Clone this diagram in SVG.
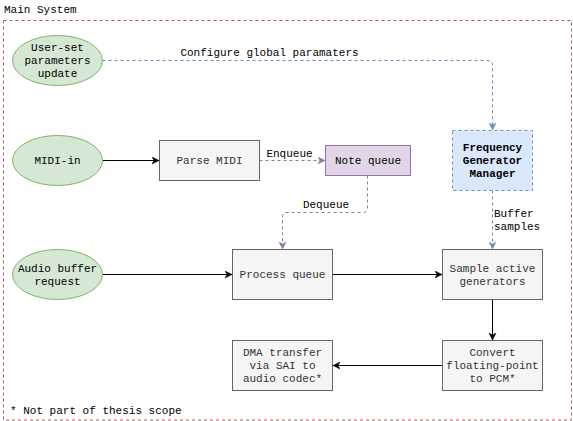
<svg xmlns="http://www.w3.org/2000/svg" width="573" height="421" viewBox="0 0 573 421">
<style>
text{font-family:"Liberation Mono","Courier New",monospace;font-size:11px;text-anchor:middle;}
.ell{fill:#d5e8d4;stroke:#82b366;stroke-width:1;}
.box{fill:#f5f5f5;stroke:#666666;stroke-width:1;}
.gt{fill:#333333;}
.bt{fill:#000000;}
.blue{fill:#dae8fc;stroke:#6c8ebf;stroke-width:1;stroke-dasharray:3 3;}
.purp{fill:#e1d5e7;stroke:#9673a6;stroke-width:1;}
.c{fill:none;stroke:#000000;stroke-width:1;}
.cb{fill:none;stroke:#6c8ebf;stroke-width:1;stroke-dasharray:3 3;}
.cp{fill:none;stroke:#9673a6;stroke-width:1;stroke-dasharray:3 3;}
.lab{fill:#000000;}
</style>
<defs>
<marker id="ak" markerWidth="8" markerHeight="8" refX="7" refY="4" orient="auto" markerUnits="userSpaceOnUse">
<path d="M0,0.5 L7,4 L0,7.5 L2,4 Z" fill="#000000" stroke="#000000" stroke-width="0.5"/>
</marker>
<marker id="ab" markerWidth="8" markerHeight="8" refX="7" refY="4" orient="auto" markerUnits="userSpaceOnUse">
<path d="M0,0.5 L7,4 L0,7.5 L2,4 Z" fill="#6c8ebf" stroke="#6c8ebf" stroke-width="0.5"/>
</marker>
<marker id="ap" markerWidth="8" markerHeight="8" refX="7" refY="4" orient="auto" markerUnits="userSpaceOnUse">
<path d="M0,0.5 L7,4 L0,7.5 L2,4 Z" fill="#9673a6" stroke="#9673a6" stroke-width="0.5"/>
</marker>
</defs>
<rect width="573" height="421" fill="#ffffff"/>
<g id="main-system">
<rect x="3.5" y="20.5" width="568" height="399.5" fill="none" stroke="#b85450" stroke-width="1" stroke-dasharray="3 3"/>
<text x="4" y="13" style="text-anchor:start" class="bt">Main System</text>
<text x="10" y="414" style="text-anchor:start" class="bt">* Not part of thesis scope</text>
</g>
<g id="connectors">
<path class="cb" d="M102.5,60.5 H488 Q492.5,60.5 492.5,65 V130" marker-end="url(#ab)"/>
<text x="269.5" y="56" class="lab">Configure global paramaters</text>
<path class="c" d="M102.5,160.5 H159" marker-end="url(#ak)"/>
<path class="cp" d="M259.5,160.5 H325" marker-end="url(#ap)"/>
<text x="289.5" y="157" class="lab">Enqueue</text>
<path class="cp" d="M367.5,175.5 V208 Q367.5,212.5 363,212.5 H287 Q282.5,212.5 282.5,217 V249" marker-end="url(#ap)"/>
<text x="326" y="208" class="lab">Dequeue</text>
<path class="cb" d="M492.5,190.5 V249" marker-end="url(#ab)"/>
<text x="494" y="217" style="text-anchor:start" class="lab">Buffer</text>
<text x="494" y="230" style="text-anchor:start" class="lab">samples</text>
<path class="c" d="M102.5,274.5 H232" marker-end="url(#ak)"/>
<path class="c" d="M332.5,274.5 H442" marker-end="url(#ak)"/>
<path class="c" d="M492.5,299.5 V340" marker-end="url(#ak)"/>
<path class="c" d="M442.5,365.5 H333" marker-end="url(#ak)"/>
</g>
<g id="user-set">
<ellipse class="ell" cx="57.5" cy="60.5" rx="45" ry="25"/>
<text class="bt" x="57.5" y="51">User-set</text>
<text class="bt" x="57.5" y="64">parameters</text>
<text class="bt" x="57.5" y="77">update</text>
</g>
<g id="midi-in">
<ellipse class="ell" cx="57.5" cy="160.5" rx="45" ry="25"/>
<text class="bt" x="57.5" y="164">MIDI-in</text>
</g>
<g id="audio-buffer">
<ellipse class="ell" cx="57.5" cy="274.5" rx="45" ry="25"/>
<text class="bt" x="57.5" y="271.5">Audio buffer</text>
<text class="bt" x="57.5" y="284.5">request</text>
</g>
<g id="parse-midi">
<rect class="box" x="159.5" y="140.5" width="100" height="40"/>
<text class="gt" x="209.5" y="164">Parse MIDI</text>
</g>
<g id="note-queue">
<rect class="purp" x="325.5" y="145.5" width="85" height="30"/>
<text class="bt" x="368" y="164">Note queue</text>
</g>
<g id="fgm">
<rect class="blue" x="452.5" y="130.5" width="80" height="60"/>
<text class="bt" x="492.5" y="151" font-weight="bold">Frequency</text>
<text class="bt" x="492.5" y="164" font-weight="bold">Generator</text>
<text class="bt" x="492.5" y="177" font-weight="bold">Manager</text>
</g>
<g id="process-queue">
<rect class="box" x="232.5" y="249.5" width="100" height="50"/>
<text class="gt" x="282.5" y="278">Process queue</text>
</g>
<g id="sample-active">
<rect class="box" x="442.5" y="249.5" width="100" height="50"/>
<text class="gt" x="492.5" y="271.5">Sample active</text>
<text class="gt" x="492.5" y="284.5">generators</text>
</g>
<g id="convert">
<rect class="box" x="442.5" y="340.5" width="100" height="50"/>
<text class="gt" x="492.5" y="356">Convert</text>
<text class="gt" x="492.5" y="369">floating-point</text>
<text class="gt" x="492.5" y="382">to PCM*</text>
</g>
<g id="dma">
<rect class="box" x="232.5" y="340.5" width="100" height="50"/>
<text class="gt" x="282.5" y="356">DMA transfer</text>
<text class="gt" x="282.5" y="369">via SAI to</text>
<text class="gt" x="282.5" y="382">audio codec*</text>
</g>
</svg>
